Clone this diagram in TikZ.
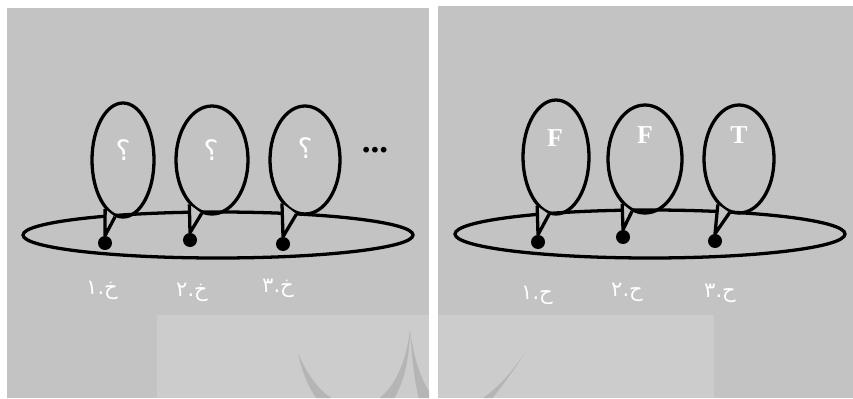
\documentclass[tikz,border=0pt]{standalone}
\usepackage{fontspec}
\setmainfont{Liberation Serif}
\newfontfamily\arabicfont[Script=Arabic]{DejaVu Sans}
\TeXXeTstate=1
\usetikzlibrary{shapes.geometric}
\definecolor{panelgray}{gray}{0.765}
\definecolor{lightgray}{gray}{0.80}
\definecolor{markgray}{gray}{0.71}
\begin{document}
\begin{tikzpicture}[
    x=0.03cm, y=-0.03cm,
    panel/.style={fill=panelgray, draw=none},
    balloon/.style={ellipse, draw, line width=2.8pt, inner sep=0pt},
    bead/.style={circle, fill=black, inner sep=0pt, minimum size=0.42cm},
    tailpath/.style={draw, line width=2.8pt, fill=panelgray, line join=round},
    qmark/.style={text=white, font=\arabicfont\fontsize{24}{26}\selectfont},
    truth/.style={text=white, font=\bfseries\fontsize{22}{24}\selectfont},
    caption/.style={text=white, font=\arabicfont\fontsize{18}{20}\selectfont}
]
\useasboundingbox (0,0) rectangle (853,398);
% Panels
\fill[white] (0,0) rectangle (853,398);
\fill[panel] (7,8) rectangle (429,398);
\fill[panel] (438,6) rectangle (853,398);
\fill[lightgray] (157,315) rectangle (429,398);
\fill[lightgray] (438,315) rectangle (714,398);
% Watermark
\begin{scope}
\clip (157,315) rectangle (429,398) (438,315) rectangle (714,398);
\fill[markgray] (298,353) .. controls (318,450) and (408,450) .. (410,330)
    .. controls (398,425) and (330,430) .. (298,353);
\fill[markgray] (410,330) .. controls (418,455) and (445,475) .. (527,350)
    .. controls (480,420) and (425,440) .. (410,330);
\end{scope}

% Left panel
\node[balloon, minimum width=1.86cm, minimum height=3.42cm] (lb1) at (123,160) {};
\node[balloon, minimum width=2.16cm, minimum height=3.24cm] (lb2) at (212,160) {};
\node[balloon, minimum width=2.10cm, minimum height=3.24cm] (lb3) at (305,160) {};
\draw[line width=2.8pt] (218,235) ellipse [x radius=195, y radius=23];
\node[bead] (ld1) at (105,243) {};
\node[bead] (ld2) at (190,240) {};
\node[bead] (ld3) at (283,244) {};
\node[qmark] (lq1) at (123,150) {؟};
\node[qmark] (lq2) at (211,150) {؟};
\node[qmark] (lq3) at (305,148) {؟};
\node[truth, text=black, font=\bfseries\fontsize{30}{30}\selectfont] (more) at (375,150) {...};
\node[caption] (ln1) at (102,290) {\beginR خ.١\endR};
\node[caption] (ln2) at (192,292) {\beginR خ.٢\endR};
\node[caption] (ln3) at (278,288) {\beginR خ.٣\endR};

% Right panel
\node[balloon, minimum width=1.98cm, minimum height=3.42cm] (rb1) at (556,157) {};
\node[balloon, minimum width=2.22cm, minimum height=3.24cm] (rb2) at (645,159) {};
\node[balloon, minimum width=2.10cm, minimum height=3.24cm] (rb3) at (739,159) {};
\draw[line width=2.8pt] (650,234) ellipse [x radius=195, y radius=24];
\node[bead] (rd1) at (538,242) {};
\node[bead] (rd2) at (623,237) {};
\node[bead] (rd3) at (715,241) {};
\node[truth] (rt1) at (555,138) {F};
\node[truth] (rt2) at (645,135) {F};
\node[truth] (rt3) at (739,135) {T};
\node[caption] (rn1) at (537,295) {\beginR ح.١\endR};
\node[caption] (rn2) at (627,292) {\beginR ح.٢\endR};
\node[caption] (rn3) at (720,293) {\beginR ح.٣\endR};

% Tails
\draw[tailpath] (lb1.250) -- (ld1.north) -- (lb1.262);
\draw[tailpath] (lb2.243) -- (ld2.north) -- (lb2.259);
\draw[tailpath] (lb3.242) -- (ld3.north) -- (lb3.261);
\draw[tailpath] (rb1.249) -- (rd1.north) -- (rb1.263);
\draw[tailpath] (rb2.243) -- (rd2.north) -- (rb2.256);
\draw[tailpath] (rb3.245) -- (rd3.north) -- (rb3.260);
\end{tikzpicture}
\end{document}
